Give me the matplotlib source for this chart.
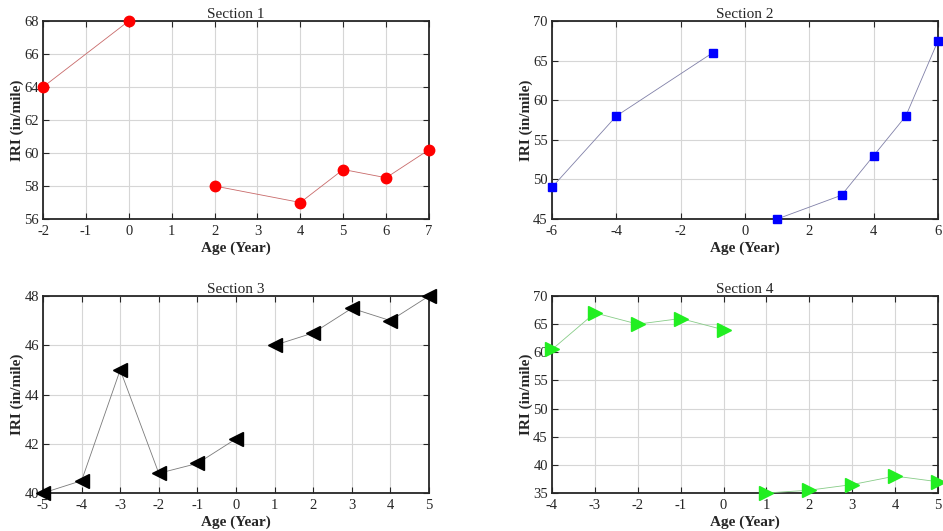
import numpy as np
import matplotlib
matplotlib.use("Agg")
from matplotlib import pyplot as plt

plt.rcParams['font.family'] = ['Liberation Serif', 'DejaVu Serif']
plt.rcParams['font.size'] = 10.5
plt.rcParams['axes.unicode_minus'] = False

# age (years) and IRI per section, split into before / after treatment
s1_age_a = [-2, 0]
s1_iri_a = [64, 68]
s1_age_b = [2, 4, 5, 6, 7]
s1_iri_b = [58, 57, 59, 58.5, 60.2]

s2_age_a = [-6, -4, -1]
s2_iri_a = [49, 58, 66]
s2_age_b = [1, 3, 4, 5, 6]
s2_iri_b = [45, 48, 53, 58, 67.5]

s3_age_a = [-5, -4, -3, -2, -1, 0]
s3_iri_a = [40, 40.5, 45, 40.8, 41.2, 42.2]
s3_age_b = [1, 2, 3, 4, 5]
s3_iri_b = [46, 46.5, 47.5, 47, 48]

s4_age_a = [-4, -3, -2, -1, 0]
s4_iri_a = [60.5, 67, 65, 66, 64]
s4_age_b = [1, 2, 3, 4, 5]
s4_iri_b = [35, 35.5, 36.5, 38, 37]

titles = ['Section 1', 'Section 2', 'Section 3', 'Section 4']

def setup(ax, xlim, xticks, ylim, yticks):
    ax.set_xlim(xlim)
    ax.set_ylim(ylim)
    ax.set_xticks(xticks)
    ax.set_yticks(yticks)
    ax.grid(True, which='major', color='#d6d6d6', lw=0.8)
    ax.tick_params(direction='in', top=True, right=True, length=4, width=0.8,
                   colors='#262626', labelsize=10.5)
    ax.tick_params(axis='x', pad=4)
    ax.tick_params(axis='y', pad=3)
    for s in ax.spines.values():
        s.set_linewidth(1.3)
        s.set_color('#262626')
    ax.set_axisbelow(True)
    ax.set_xlabel('Age (Year)', fontweight='bold', fontsize=11, labelpad=3, color='#262626')
    ax.set_ylabel('IRI (in/mile)', fontweight='bold', fontsize=11, labelpad=0, color='#262626')

fig = plt.figure(figsize=(9.43, 5.31), dpi=100)
w = 386 / 943
h = 198 / 531
ax1 = fig.add_axes([43 / 943, 1 - 219 / 531, w, h])
ax2 = fig.add_axes([552 / 943, 1 - 219 / 531, w, h])
ax3 = fig.add_axes([43 / 943, 1 - 493 / 531, w, h - 1 / 531])
ax4 = fig.add_axes([552 / 943, 1 - 493 / 531, w, h - 1 / 531])

def draw(ax, xs, ys, marker, color, line_color, ms):
    for x, y in zip(xs, ys):
        ax.plot(x, y, '-', color=line_color, lw=0.6, marker=marker, ms=ms,
                mfc=color, mec=color, clip_on=False, zorder=3)

# Section 1
draw(ax1, [s1_age_a, s1_age_b], [s1_iri_a, s1_iri_b], 'o', '#ff0000', '#c86a6a', 7.5)
setup(ax1, (-2, 7), np.arange(-2, 8), (56, 68), np.arange(56, 69, 2))

# Section 2
draw(ax2, [s2_age_a, s2_age_b], [s2_iri_a, s2_iri_b], 's', '#0000ff', '#8080a8', 6)
setup(ax2, (-6, 6), np.arange(-6, 7, 2), (45, 70), np.arange(45, 71, 5))

# Section 3
draw(ax3, [s3_age_a, s3_age_b], [s3_iri_a, s3_iri_b], '<', '#000000', '#7a7a7a', 9.5)
setup(ax3, (-5, 5), np.arange(-5, 6), (40, 48), np.arange(40, 49, 2))

# Section 4
draw(ax4, [s4_age_a, s4_age_b], [s4_iri_a, s4_iri_b], '>', '#22ee22', '#88cc88', 9.5)
setup(ax4, (-4, 5), np.arange(-4, 6), (35, 70), np.arange(35, 71, 5))

for ax, t in zip([ax1, ax2, ax3, ax4], titles):
    ax.set_title(t, fontsize=11, pad=2, color='#262626')

fig.savefig('out.png', dpi=100)
